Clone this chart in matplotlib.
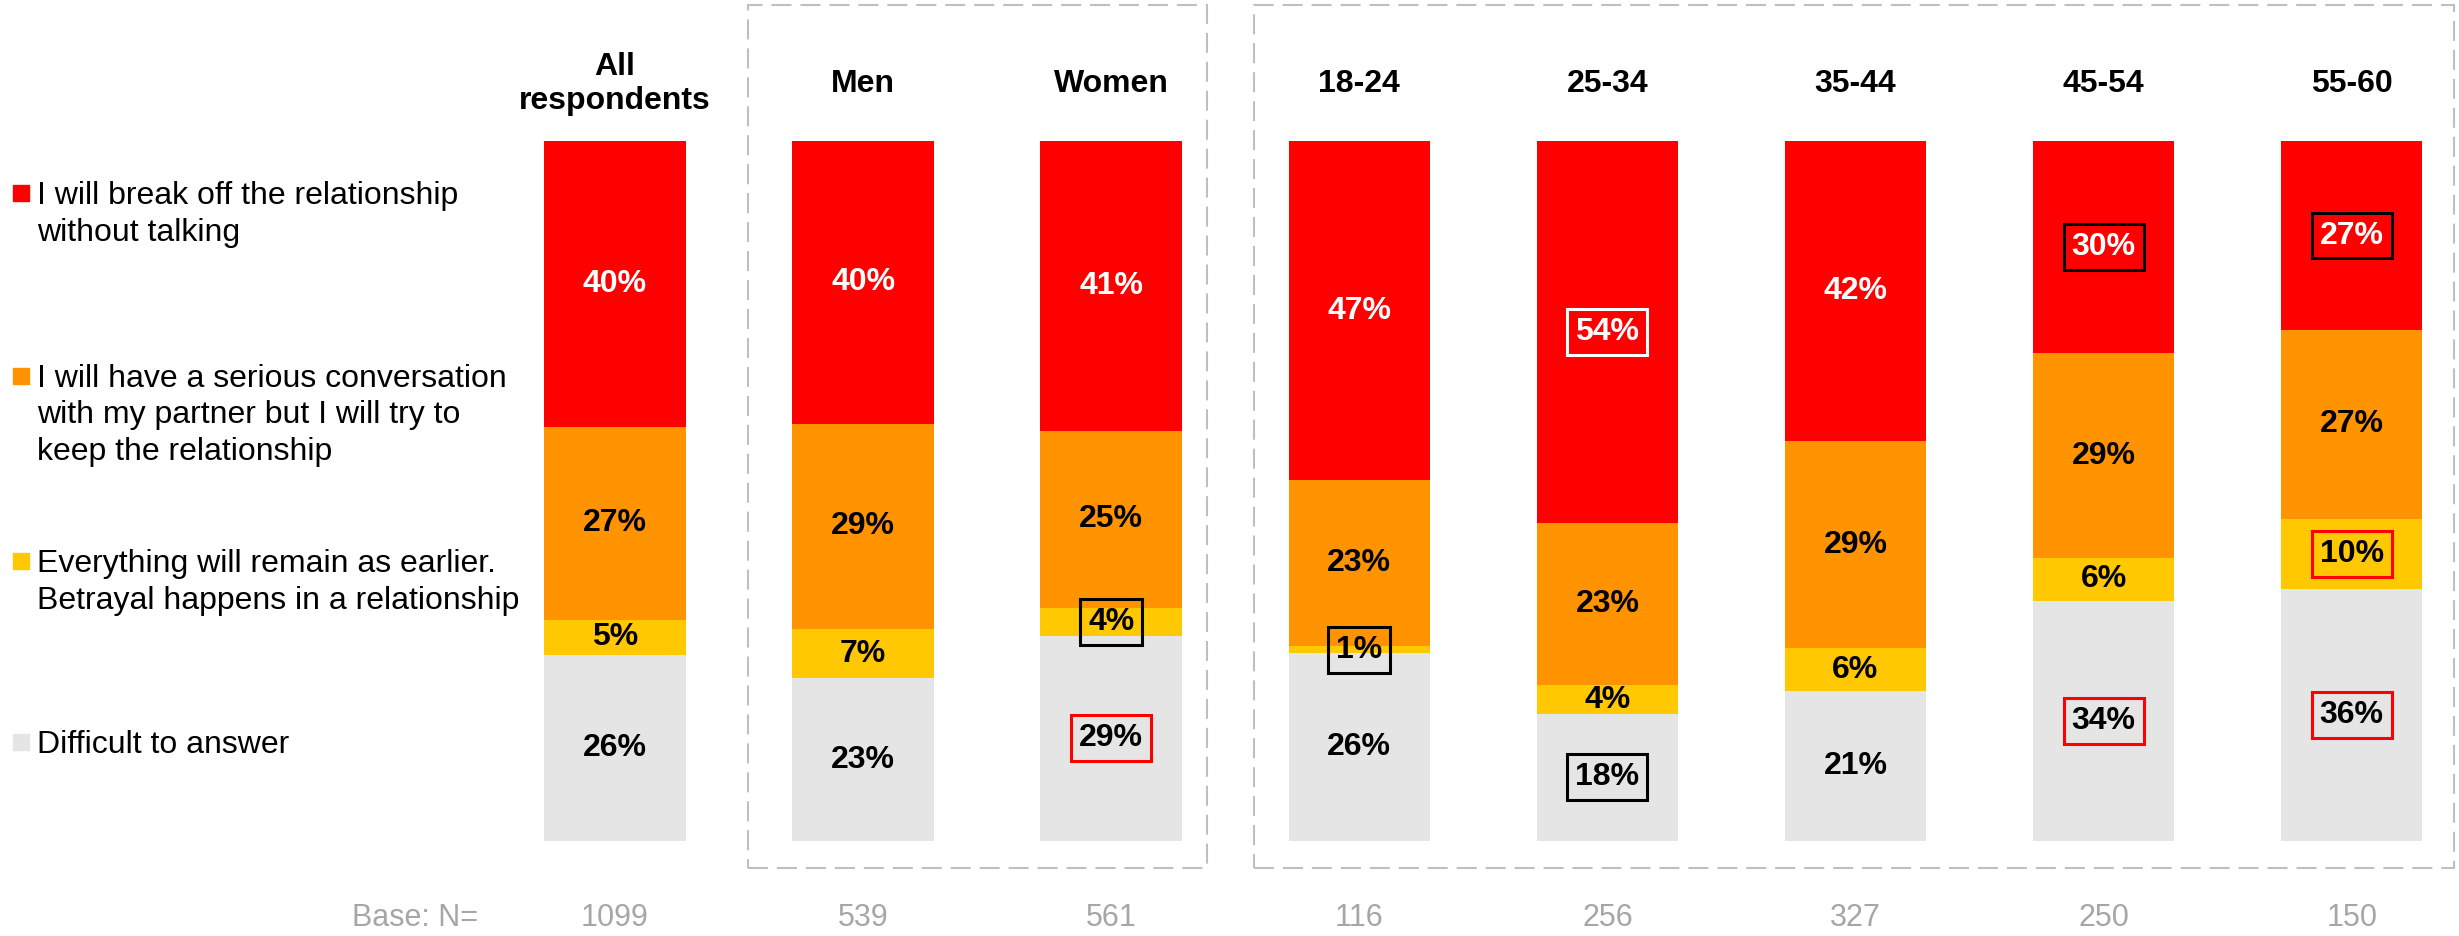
import numpy as np
import matplotlib.pyplot as plt
from matplotlib.patches import Rectangle
from matplotlib.transforms import blended_transform_factory

plt.rcParams['font.family'] = ['Liberation Sans', 'DejaVu Sans']

groups = ["All\nrespondents", "Men", "Women", "18-24", "25-34", "35-44", "45-54", "55-60"]
base_n = [1099, 539, 561, 116, 256, 327, 250, 150]

break_off = [40, 40, 41, 47, 54, 42, 30, 27]
serious = [27, 29, 25, 23, 23, 29, 29, 27]
remain = [5, 7, 4, 1, 4, 6, 6, 10]
difficult = [26, 23, 29, 26, 18, 21, 34, 36]

series_names = [
    ["I will break off the relationship", "without talking"],
    ["I will have a serious conversation", "with my partner but I will try to", "keep the relationship"],
    ["Everything will remain as earlier.", "Betrayal happens in a relationship"],
    ["Difficult to answer"],
]
colors = ["#FF0000", "#FF9300", "#FFC800", "#E5E5E5"]
text_colors = ["white", "black", "black", "black"]

# boxed labels: (group index, series index, box colour)
highlights = [(2, 2, "black"), (2, 3, "red"), (3, 2, "black"),
              (4, 0, "white"), (4, 3, "black"), (6, 0, "black"),
              (6, 3, "red"), (7, 0, "black"), (7, 2, "red"), (7, 3, "red")]

W, H = 2459, 936
fig = plt.figure(figsize=(W / 100, H / 100), dpi=100)

# x=0 at px 615, spacing 248 px
unit = 248.1
left_px = 615 - 0.5 * unit
ax = fig.add_axes([left_px / W, (H - 841) / H, 7.9 * unit / W, 700 / H])
ax.set_xlim(-0.5, 7.4)
ax.set_ylim(0, 100)
ax.axis("off")

data = np.array([break_off, serious, remain, difficult], dtype=float)
totals = data.sum(axis=0)
norm = data / totals * 100
x = np.arange(len(groups))

hl = {(g, s): c for g, s, c in highlights}
bottom = np.zeros(len(groups))
for s in [3, 2, 1, 0]:
    ax.bar(x, norm[s], width=0.57, bottom=bottom, color=colors[s], linewidth=0)
    for i in range(len(groups)):
        yc = bottom[i] + norm[s][i] / 2
        kw = {}
        if (i, s) in hl:
            kw["bbox"] = dict(boxstyle="square,pad=0.25", facecolor="none",
                              edgecolor=hl[(i, s)], linewidth=2.2)
        ax.text(x[i], yc, f"{int(data[s][i])}%", ha="center", va="center",
                fontsize=23, fontweight="bold", color=text_colors[s], **kw)
    bottom += norm[s]

tr = blended_transform_factory(ax.transData, fig.transFigure)
for i, g in enumerate(groups):
    fig.text(x[i], 1 - 84 / H, g, transform=tr, ha="center", va="center",
             fontsize=23, fontweight="bold", linespacing=1.15)
    fig.text(x[i], 1 - 918 / H, str(base_n[i]), transform=tr, ha="center",
             va="center", fontsize=22, color="#A6A6A6")
fig.text(352 / W, 1 - 918 / H, "Base: N=", ha="left", va="center",
         fontsize=22, color="#A6A6A6")

# dashed group frames
for x0, x1 in [(748, 1207), (1254, 2454)]:
    fig.patches.append(Rectangle((x0 / W, 1 - 868 / H), (x1 - x0) / W, 863 / H,
                                 transform=fig.transFigure, fill=False,
                                 edgecolor="#BFBFBF", linewidth=1.5,
                                 linestyle=(0, (9.6, 4.3))))

# legend
first_line = [193, 376, 561, 742]
for s in range(4):
    yc = first_line[s]
    fig.patches.append(Rectangle((13 / W, 1 - (yc + 8) / H), 16 / W, 16 / H,
                                 transform=fig.transFigure, color=colors[s]))
    for k, line in enumerate(series_names[s]):
        yb = yc + 11 + k * 36.5
        fig.text(37 / W, 1 - yb / H, line, ha="left", va="baseline", fontsize=23)

fig.savefig("out.png", dpi=100)
